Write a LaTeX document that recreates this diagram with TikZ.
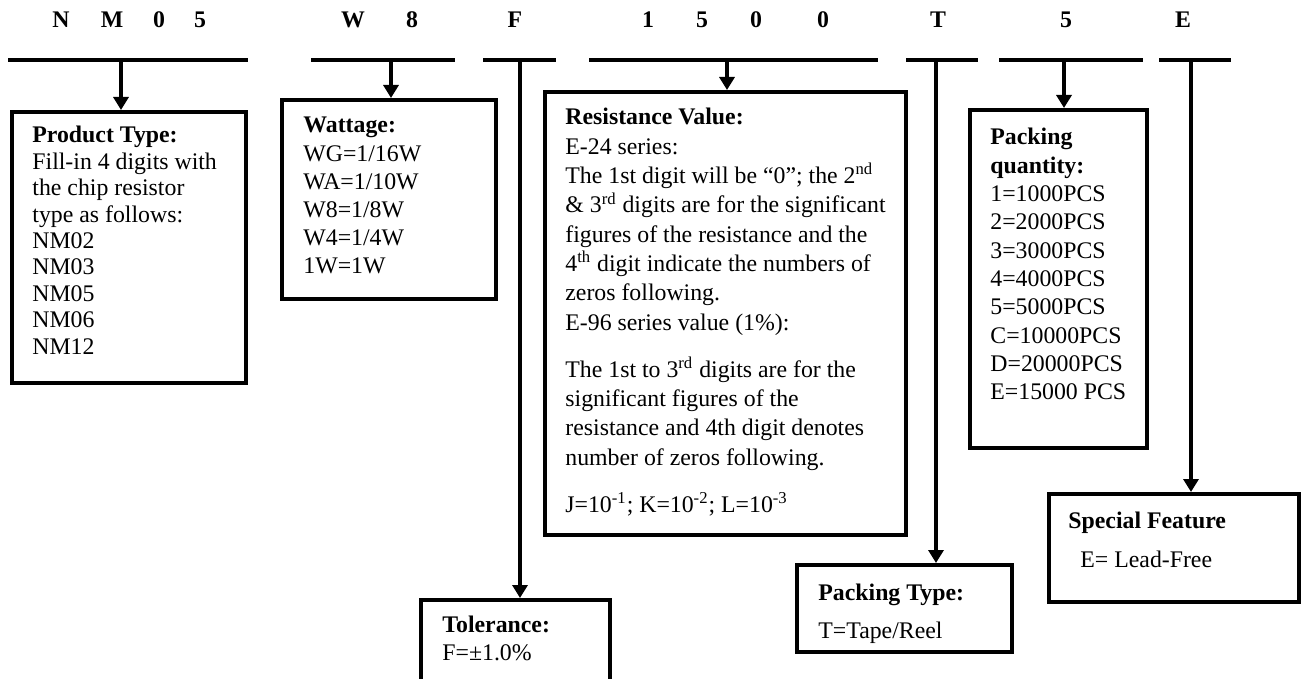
\documentclass[tikz,border=0pt]{standalone}
\usepackage{fontspec}
\setmainfont{Liberation Serif}
\usetikzlibrary{arrows.meta}
\begin{document}
\begin{tikzpicture}[x=0.5pt,y=-0.5pt,
  box/.style={draw, line width=1.8pt, inner sep=0pt},
  bar/.style={fill, inner sep=0pt, minimum height=2pt},
  arr/.style={line width=1.7pt, -{Triangle[width=7.5pt,length=6.5pt]}},
  conn/.style={line width=1.7pt},
  hdr/.style={anchor=base, inner sep=0pt, font=\fontsize{11.9}{14}\selectfont\bfseries},
  txt/.style={anchor=base west, inner sep=0pt, font=\fontsize{11.9}{14}\selectfont}]
\useasboundingbox (0,0) rectangle (1312,679);
\clip (0,0) rectangle (1312,679);
% header letters
\node[hdr] (hN) at (61,28) {N};
\node[hdr] (hM) at (112,28) {M};
\node[hdr] (h0) at (159,28) {0};
\node[hdr] (h5) at (200,28) {5};
\node[hdr] (hW) at (353,28) {W};
\node[hdr] (h8) at (412,28) {8};
\node[hdr] (hF) at (515,28) {F};
\node[hdr] (h1a) at (648,28) {1};
\node[hdr] (h5a) at (702,28) {5};
\node[hdr] (h0a) at (756,28) {0};
\node[hdr] (h0b) at (823,28) {0};
\node[hdr] (hT) at (938,28) {T};
\node[hdr] (h5b) at (1066,28) {5};
\node[hdr] (hE) at (1183,28) {E};
% bars
\node[bar, minimum width=120pt] (b1) at (128,60) {};
\node[bar, minimum width=72pt] (b2) at (383,60) {};
\node[bar, minimum width=36.5pt] (b3) at (519.5,60) {};
\node[bar, minimum width=144.5pt] (b4) at (733.5,60) {};
\node[bar, minimum width=36pt] (b5) at (942,60) {};
\node[bar, minimum width=72pt] (b6) at (1071,60) {};
\node[bar, minimum width=36pt] (b7) at (1195,60) {};
% boxes
\node[box, minimum width=117.2pt, minimum height=135.7pt] (prod) at (129,247.5) {};
\node[box, minimum width=107.2pt, minimum height=99.7pt] (watt) at (389,199.5) {};
\node[box, minimum width=180.7pt, minimum height=221.7pt] (res) at (725.5,313.5) {};
\node[box, minimum width=88.7pt, minimum height=169.2pt] (qty) at (1058.5,279) {};
\node[box, minimum width=94.7pt, minimum height=59.2pt] (tol) at (515.5,659) {};
\node[box, minimum width=107.7pt, minimum height=43.7pt] (ptype) at (904.5,608.5) {};
\node[box, minimum width=125.2pt, minimum height=54.2pt] (spec) at (1174,548) {};
% arrow x positions
\coordinate (x1) at (121,0);
\coordinate (x2) at (391,0);
\coordinate (x3) at (520,0);
\coordinate (x4) at (727,0);
\coordinate (x5) at (936,0);
\coordinate (x6) at (1064,0);
\coordinate (x7) at (1191,0);
\draw[arr] (b1 -| x1) -- (prod.north -| x1);
\draw[arr] (b2 -| x2) -- (watt.north -| x2);
\draw[arr] (b3 -| x3) -- (tol.north -| x3);
\draw[arr] (b4 -| x4) -- (res.north -| x4);
\draw[arr] (b5 -| x5) -- (ptype.north -| x5);
\draw[arr] (b6 -| x6) -- (qty.north -| x6);
\draw[arr] (b7 -| x7) -- (spec.north -| x7);
% texts
\node[txt] (tprod) at (32,143) {\parbox[t]{200pt}{\fontsize{11.9}{13.2}\selectfont\lineskiplimit=-20pt
\textbf{Product Type:}\\
Fill-in 4 digits with\\
the chip resistor\\
type as follows:\\
NM02\\
NM03\\
NM05\\
NM06\\
NM12}};
\node[txt] (twatt) at (303,133) {\parbox[t]{200pt}{\fontsize{11.9}{14.1}\selectfont\lineskiplimit=-20pt
\textbf{Wattage:}\\
WG=1/16W\\
WA=1/10W\\
W8=1/8W\\
W4=1/4W\\
1W=1W}};
\node[txt] (tres) at (565,125) {\parbox[t]{300pt}{\fontsize{11.9}{14.65}\selectfont\lineskiplimit=-20pt
\textbf{Resistance Value:}\\
E-24 series:\\
The 1st digit will be “0”; the 2\textsuperscript{nd}\\
\& 3\textsuperscript{rd} digits are for the significant\\
figures of the resistance and the\\
4\textsuperscript{th} digit indicate the numbers of\\
zeros following.\\
E-96 series value (1\%):\\[9pt]
The 1st to 3\textsuperscript{rd} digits are for the\\
significant figures of the\\
resistance and 4th digit denotes\\
number of zeros following.\\[9pt]
J=10\textsuperscript{-1}; K=10\textsuperscript{-2}; L=10\textsuperscript{-3}}};
\node[txt] (tqty) at (990,145) {\parbox[t]{200pt}{\fontsize{11.9}{14.15}\selectfont\lineskiplimit=-20pt
\textbf{Packing}\\
\textbf{quantity:}\\
1=1000PCS\\
2=2000PCS\\
3=3000PCS\\
4=4000PCS\\
5=5000PCS\\
C=10000PCS\\
D=20000PCS\\
E=15000 PCS}};
\node[txt] (ttol) at (442,632) {\parbox[t]{200pt}{\fontsize{11.9}{14}\selectfont\lineskiplimit=-20pt
\textbf{Tolerance:}\\
F=±1.0\%}};
\node[txt] (tptype) at (818,600) {\parbox[t]{200pt}{\fontsize{11.9}{19}\selectfont\lineskiplimit=-20pt
\textbf{Packing Type:}\\
T=Tape/Reel}};
\node[txt] (tspec1) at (1068,528) {\textbf{Special Feature}};
\node[txt] (tspec2) at (1080,567) {E= Lead-Free};
\end{tikzpicture}
\end{document}
